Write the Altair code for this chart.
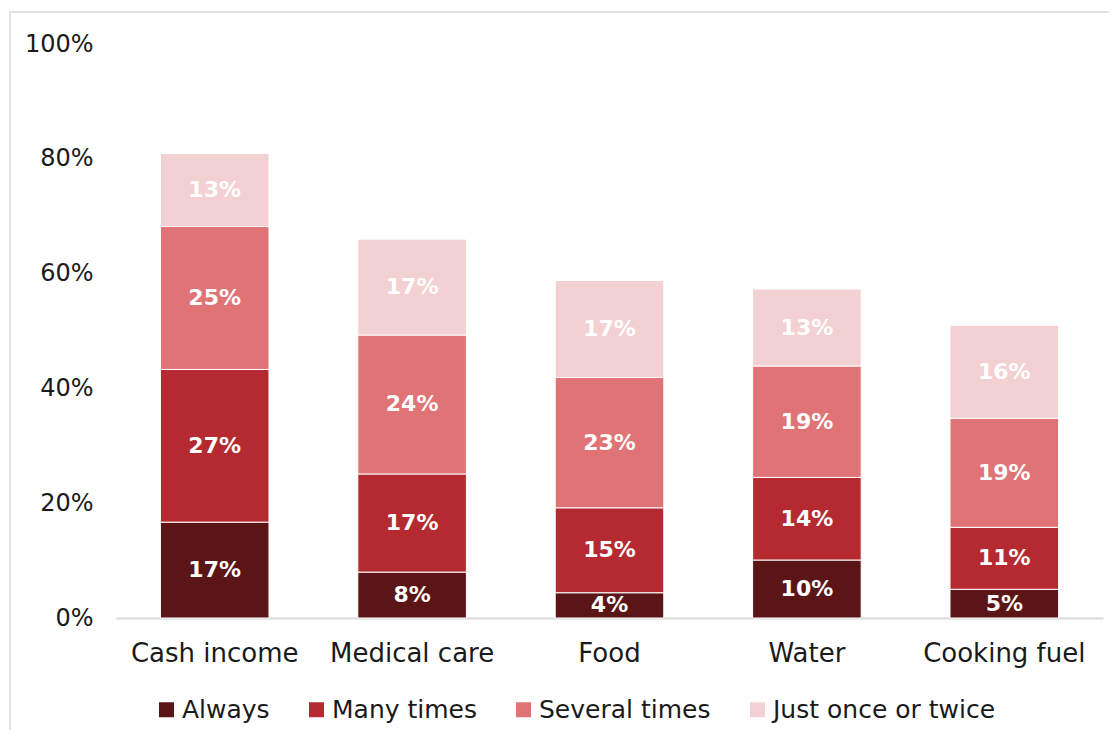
import altair as alt
import pandas as pd

categories = ["Cash income", "Medical care", "Food", "Water", "Cooking fuel"]
series = ["Always", "Many times", "Several times", "Just once or twice"]
always = [16.7, 8.0, 4.4, 10.1, 5.0]
many_times = [26.6, 17.1, 14.8, 14.4, 10.8]
several_times = [24.9, 24.2, 22.7, 19.4, 19.0]
just_once = [12.7, 16.7, 16.9, 13.4, 16.2]
colors = ["#5b1516", "#b42a30", "#e07375", "#f3d0d1"]
y_ticks = [0, 20, 40, 60, 80, 100]

rows = []
for si, (name, vals) in enumerate(zip(series, [always, many_times, several_times, just_once])):
    for c, v in zip(categories, vals):
        rows.append({"category": c, "series": name, "value": v, "order": si})
df = pd.DataFrame(rows)

FONT = "DejaVu Sans"
W, H = 987, 574

base = alt.Chart(df).transform_stack(
    stack="value", groupby=["category"], as_=["y0", "y1"], sort=[alt.SortField("order")]
).transform_calculate(
    mid="(datum.y0 + datum.y1) / 2",
    label="format(datum.value, '.0f') + '%'"
)

x_enc = alt.X("category:N", sort=categories, title=None,
              scale=alt.Scale(paddingInner=0.45, paddingOuter=0.225),
              axis=alt.Axis(labelAngle=0, labelFontSize=26, labelFont=FONT, labelColor="#1a1a1a",
                            ticks=False, labelPadding=22, domainColor="#d9d9d9", domainWidth=2))

bars = base.mark_bar(stroke="white", strokeWidth=1).encode(
    x=x_enc,
    y=alt.Y("y0:Q", title=None, scale=alt.Scale(domain=[0, 100]),
            axis=alt.Axis(values=y_ticks, labelExpr="datum.value + '%'", grid=False, domain=False,
                          ticks=False, tickSize=0, labelFontSize=24, labelFont=FONT,
                          labelColor="#1a1a1a", labelPadding=23)),
    y2="y1:Q",
    color=alt.Color("series:N", scale=alt.Scale(domain=series, range=colors), title=None,
                    legend=alt.Legend(orient="none", legendX=38, legendY=653, direction="horizontal",
                                      columns=4, symbolType="square", symbolSize=225,
                                      symbolStrokeWidth=0, labelFontSize=25, labelFont=FONT,
                                      labelColor="#1a1a1a", columnPadding=34, labelOffset=3,
                                      labelLimit=400)),
)

text = base.mark_text(color="white", fontWeight="bold", fontSize=22, font=FONT).encode(
    x=alt.X("category:N", sort=categories),
    y=alt.Y("mid:Q"),
    text="label:N",
)

frame = alt.Chart(pd.DataFrame({"f": [0]})).mark_rect(
    filled=False, stroke="#d9d9d9", strokeWidth=1.5
).encode(x=alt.value(-106), x2=alt.value(1100), y=alt.value(-32), y2=alt.value(760))

chart = alt.layer(frame, bars, text).properties(
    width=W, height=H, autosize="none",
    padding={"left": 108, "top": 36, "right": 6, "bottom": 112},
).configure_view(stroke=None)

chart.save("out.html", embed_options={"renderer": "svg", "actions": False})
